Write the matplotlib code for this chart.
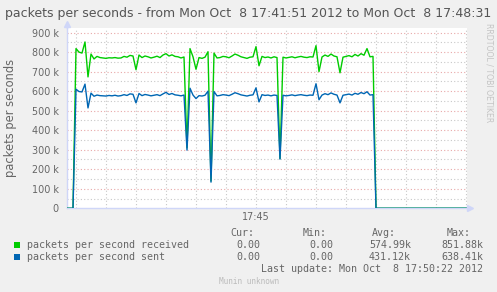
import numpy as np
import matplotlib
matplotlib.use('Agg')
import matplotlib.pyplot as plt
import matplotlib.patches as mpatches

# seconds since 17:41:51, one sample every 3 s
seconds = np.arange(0, 400, 3)

received_k = [0, 0, 0, 818, 800, 795, 852, 673, 790, 765,
              778, 772, 770, 768, 771, 770, 772, 769, 770, 778,
              774, 783, 780, 710, 785, 772, 780, 776, 770, 774,
              779, 772, 785, 792, 780, 786, 778, 776, 770, 775,
              310, 818, 776, 712, 772, 768, 774, 802, 140, 795,
              770, 772, 778, 776, 771, 780, 790, 784, 776, 772,
              768, 774, 776, 828, 730, 778, 772, 775, 770, 776,
              772, 255, 774, 770, 773, 776, 771, 775, 778, 774,
              772, 776, 775, 833, 700, 775, 785, 778, 790, 780,
              776, 694, 774, 778, 782, 776, 788, 780, 792, 784,
              818, 776, 778] + [0] * 31

sent_k = [0, 0, 0, 610, 598, 596, 636, 514, 590, 574,
          580, 577, 576, 575, 578, 576, 579, 575, 577, 582,
          578, 586, 584, 540, 588, 577, 583, 580, 576, 579,
          582, 577, 586, 594, 583, 588, 581, 579, 576, 580,
          298, 615, 580, 562, 577, 575, 579, 600, 134, 598,
          576, 578, 582, 580, 577, 584, 592, 587, 581, 578,
          575, 579, 581, 617, 545, 582, 578, 580, 576, 580,
          578, 252, 579, 576, 578, 581, 577, 580, 582, 579,
          577, 580, 579, 638, 556, 580, 587, 582, 591, 584,
          580, 540, 579, 582, 585, 580, 589, 584, 593, 587,
          597, 580, 582] + [0] * 31

y_ticks = [0, 100000, 200000, 300000, 400000, 500000, 600000, 700000, 800000, 900000]
y_tick_labels = ['0', '100 k', '200 k', '300 k', '400 k', '500 k', '600 k', '700 k', '800 k', '900 k']
x_minor = np.arange(9, 400, 30)
x_major = [189]
x_major_labels = ['17:45']

series_names = ['packets per second received', 'packets per second sent']
cur_vals = ['0.00', '0.00']
min_vals = ['0.00', '0.00']
avg_vals = ['574.99k', '431.12k']
max_vals = ['851.88k', '638.41k']

W, H = 497, 292
back = '#F0F0F0'
font_col = '#666666'
axis_col = '#CFD6F8'
colours = ['#00CC00', '#0066B3']


def fx(px):
    return px / W


def fy(py):
    return 1 - py / H


fig = plt.figure(figsize=(W / 100, H / 100), dpi=100, facecolor=back)
ax = fig.add_axes([fx(67), fy(208.3), fx(400), (208.3 - 27.7) / H])
ax.set_facecolor('white')

ax.plot(seconds, np.array(received_k) * 1000, color=colours[0], linewidth=1.0, zorder=3)
ax.plot(seconds, np.array(sent_k) * 1000, color=colours[1], linewidth=1.0, zorder=4)

ax.set_xlim(0, 400)
ax.set_ylim(0, 925000)

ax.set_yticks(y_ticks)
ax.set_yticklabels(y_tick_labels)
ax.set_yticks(np.arange(50000, 925000, 100000), minor=True)
ax.set_xticks(x_major)
ax.set_xticklabels(x_major_labels)
ax.set_xticks(x_minor, minor=True)

ax.tick_params(axis='both', which='both', length=0, colors=font_col, labelsize=6.9)
ax.tick_params(axis='y', pad=6)
ax.tick_params(axis='x', pad=3)

dots = (0, (1, 2))
for v in y_ticks[1:]:
    ax.axhline(v, color='#E8A8A8', linestyle=dots, linewidth=0.8, zorder=1)
for v in np.arange(50000, 925000, 100000):
    ax.axhline(v, color='#C8C8C8', linestyle=dots, linewidth=0.8, zorder=1)
for v in x_minor:
    ax.axvline(v, color='#C8C8C8', linestyle=dots, linewidth=0.8, zorder=1)

for s in ['top', 'right']:
    ax.spines[s].set_visible(False)
for s in ['left', 'bottom']:
    ax.spines[s].set_color(axis_col)
    ax.spines[s].set_linewidth(1.0)

# axis arrows
ax.plot([0, 0], [1.0, 1.02], color=axis_col, lw=1.0, transform=ax.transAxes, clip_on=False)
ax.plot([0], [1.02], marker='^', color=axis_col, markersize=5, transform=ax.transAxes, clip_on=False)
ax.plot([1.0, 1.008], [0, 0], color=axis_col, lw=1.0, transform=ax.transAxes, clip_on=False)
ax.plot([1.008], [0], marker='>', color=axis_col, markersize=5, transform=ax.transAxes, clip_on=False)

fig.text(fx(5), fy(14), 'packets per seconds - from Mon Oct  8 17:41:51 2012 to Mon Oct  8 17:48:31',
         color='#555555', fontsize=9.0, va='center', ha='left')
fig.text(fx(11), fy(118), 'packets per seconds', rotation=90, color=font_col,
         fontsize=8.3, va='center', ha='center')
fig.text(fx(489), fy(23), 'RRDTOOL / TOBI OETIKER', rotation=270, color='#C4C4C4',
         fontsize=5.6, va='top', ha='center')

mono = 'DejaVu Sans Mono'
fs = 7.2
fig.text(fx(230), fy(233), 'Cur:', family=mono, fontsize=fs, color=font_col, va='center')
fig.text(fx(303), fy(233), 'Min:', family=mono, fontsize=fs, color=font_col, va='center')
fig.text(fx(372), fy(233), 'Avg:', family=mono, fontsize=fs, color=font_col, va='center')
fig.text(fx(447), fy(233), 'Max:', family=mono, fontsize=fs, color=font_col, va='center')

for i, name in enumerate(series_names):
    yy = 245 + 12 * i
    fig.patches.append(mpatches.Rectangle((fx(14), fy(yy + 3)), fx(6), 6 / H,
                                          facecolor=colours[i], edgecolor='none',
                                          transform=fig.transFigure, figure=fig))
    fig.text(fx(27), fy(yy), name, family=mono, fontsize=fs, color=font_col, va='center')
    fig.text(fx(260), fy(yy), cur_vals[i], family=mono, fontsize=fs, color=font_col, va='center', ha='right')
    fig.text(fx(333), fy(yy), min_vals[i], family=mono, fontsize=fs, color=font_col, va='center', ha='right')
    fig.text(fx(411), fy(yy), avg_vals[i], family=mono, fontsize=fs, color=font_col, va='center', ha='right')
    fig.text(fx(483), fy(yy), max_vals[i], family=mono, fontsize=fs, color=font_col, va='center', ha='right')

fig.text(fx(483), fy(269), 'Last update: Mon Oct  8 17:50:22 2012', family=mono, fontsize=fs,
         color=font_col, va='center', ha='right')
fig.text(fx(249), fy(281), 'Munin unknown', family=mono, fontsize=5.6, color='#BBBBBB',
         va='center', ha='center')

plt.savefig('out.png', dpi=100, facecolor=back)
